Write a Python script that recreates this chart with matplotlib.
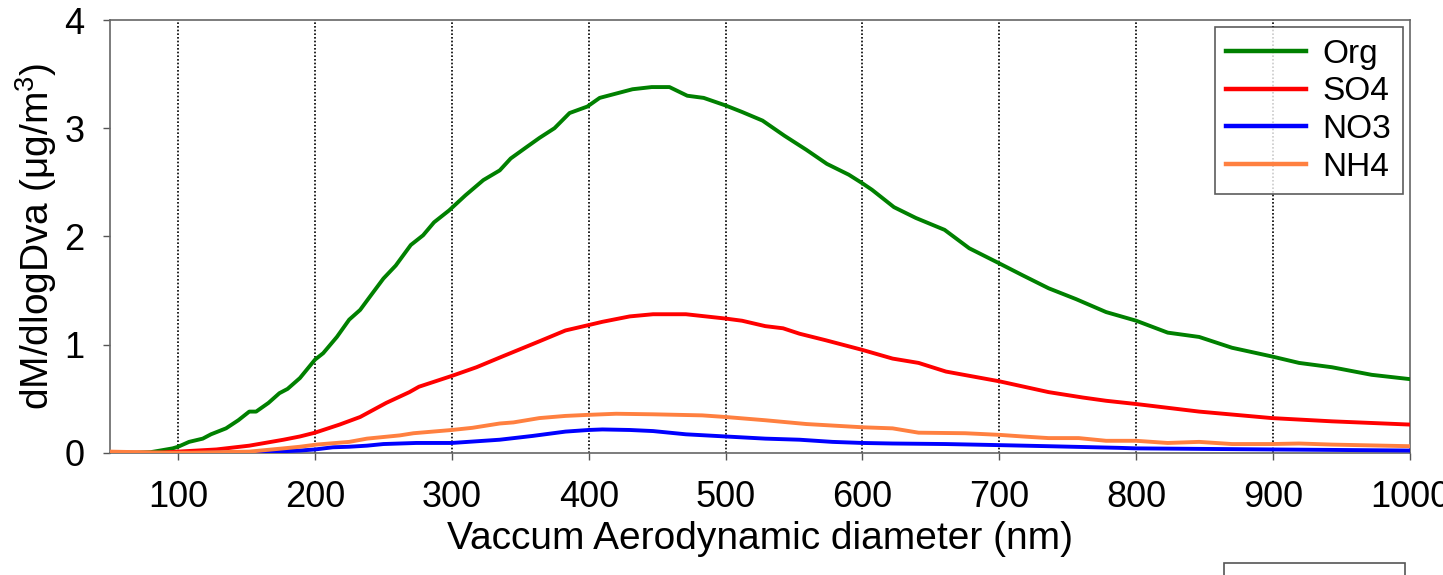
import matplotlib
matplotlib.use("Agg")
import matplotlib.pyplot as plt
from matplotlib.patches import Rectangle

plt.rcParams['font.family'] = ['Liberation Sans', 'DejaVu Sans']
plt.rcParams['mathtext.fontset'] = 'custom'
plt.rcParams['mathtext.rm'] = 'Liberation Sans'
plt.rcParams['mathtext.default'] = 'rm'

# size distributions (diameter in nm, dM/dlogDva)
org_d = [50, 70, 80, 87, 96, 100, 108, 118, 124, 135, 144, 152, 157, 166, 174, 180, 189, 200, 206, 216,
         225, 233, 240, 250, 259, 270, 279, 287, 298, 310, 323, 335, 343, 354, 364, 375, 386, 399, 408,
         420, 432, 446, 459, 472, 484, 500, 512, 527, 543, 559, 574, 590, 600, 607, 623, 639, 660, 678,
         700, 717, 736, 756, 778, 800, 823, 846, 870, 899, 919, 943, 972, 1000]
org_v = [0.0, 0.0, 0.005, 0.02, 0.04, 0.055, 0.10, 0.13, 0.17, 0.225, 0.30, 0.38, 0.38, 0.46, 0.55, 0.59,
         0.69, 0.86, 0.92, 1.07, 1.23, 1.32, 1.44, 1.61, 1.73, 1.92, 2.01, 2.13, 2.24, 2.38, 2.52, 2.61,
         2.72, 2.82, 2.91, 3.00, 3.14, 3.20, 3.28, 3.32, 3.36, 3.38, 3.38, 3.30, 3.28, 3.21, 3.15, 3.07,
         2.93, 2.80, 2.67, 2.57, 2.49, 2.43, 2.27, 2.17, 2.06, 1.89, 1.75, 1.64, 1.52, 1.42, 1.30, 1.22,
         1.11, 1.07, 0.97, 0.89, 0.83, 0.79, 0.72, 0.68]

so4_d = [50, 70, 85, 100, 128, 152, 177, 189, 200, 218, 233, 252, 269, 276, 300, 318, 337, 364, 383,
         400, 410, 430, 447, 471, 500, 512, 529, 542, 554, 573, 600, 622, 641, 661, 700, 736, 761, 778,
         800, 846, 899, 943, 1000]
so4_v = [0.0, 0.0, 0.0, 0.01, 0.03, 0.065, 0.12, 0.15, 0.185, 0.26, 0.33, 0.46, 0.56, 0.61, 0.71, 0.79,
         0.89, 1.03, 1.13, 1.18, 1.21, 1.26, 1.28, 1.28, 1.24, 1.22, 1.17, 1.15, 1.10, 1.04, 0.95, 0.87,
         0.83, 0.75, 0.66, 0.56, 0.51, 0.48, 0.45, 0.38, 0.32, 0.29, 0.26]

no3_d = [50, 65, 80, 100, 130, 160, 189, 200, 213, 225, 238, 250, 274, 300, 335, 359, 383, 400, 410,
         430, 447, 471, 500, 529, 554, 578, 600, 622, 661, 700, 736, 787, 800, 899, 1000]
no3_v = [0.0, -0.01, -0.01, -0.005, 0.0, 0.005, 0.02, 0.03, 0.05, 0.055, 0.065, 0.08, 0.09, 0.09, 0.12,
         0.155, 0.195, 0.21, 0.215, 0.21, 0.20, 0.17, 0.15, 0.13, 0.12, 0.10, 0.09, 0.085, 0.08, 0.07,
         0.06, 0.045, 0.04, 0.03, 0.02]

nh4_d = [50, 70, 90, 110, 130, 152, 177, 189, 201, 225, 238, 262, 272, 300, 315, 335, 345, 364, 383,
         400, 420, 447, 483, 500, 529, 559, 600, 622, 641, 675, 700, 717, 736, 758, 778, 800, 823, 846,
         870, 899, 919, 943, 1000]
nh4_v = [0.01, 0.005, 0.0, 0.0, 0.005, 0.01, 0.04, 0.055, 0.075, 0.10, 0.13, 0.16, 0.18, 0.21, 0.23, 0.27,
         0.28, 0.32, 0.34, 0.35, 0.36, 0.355, 0.345, 0.33, 0.30, 0.265, 0.235, 0.225, 0.185, 0.18, 0.165,
         0.15, 0.135, 0.135, 0.11, 0.11, 0.09, 0.10, 0.08, 0.08, 0.085, 0.075, 0.06]

grid_x = [100, 200, 300, 400, 500, 600, 700, 800, 900]
x_ticks = [100, 200, 300, 400, 500, 600, 700, 800, 900, 1000]
y_ticks = [0, 1, 2, 3, 4]

fig = plt.figure(figsize=(14.43, 5.75), dpi=100)
ax = fig.add_axes([0.0760, 0.2127, 0.9011, 0.7525])

for gx in grid_x:
    ax.axvline(gx, color='black', linestyle=(0, (1, 1.2)), linewidth=1.2, zorder=1)

ax.plot(org_d, org_v, color='#008000', linewidth=2.8, label='Org', zorder=3)
ax.plot(so4_d, so4_v, color='#ff0000', linewidth=2.8, label='SO4', zorder=3)
ax.plot(no3_d, no3_v, color='#0000ff', linewidth=2.8, label='NO3', zorder=3)
ax.plot(nh4_d, nh4_v, color='#ff8040', linewidth=2.8, label='NH4', zorder=3)

ax.set_xlim(50, 1000)
ax.set_ylim(0, 4)
ax.set_xticks(x_ticks)
ax.set_yticks(y_ticks)
ax.tick_params(axis='both', direction='out', length=5, width=1, color='#555555', labelsize=26)
ax.tick_params(axis='x', pad=15)
ax.tick_params(axis='y', pad=13)
for sp in ax.spines.values():
    sp.set_color('#666666')
    sp.set_linewidth(1.2)

ax.set_xlabel('Vaccum Aerodynamic diameter (nm)', fontsize=28, labelpad=4)
ax.set_ylabel('dM/dlogDva (μg/m$^{3}$)', fontsize=28, labelpad=4)

leg = ax.legend(loc='upper right', fontsize=24, frameon=True, fancybox=False,
                handlelength=2.4, handletextpad=0.5, borderpad=0.34, labelspacing=0.2,
                borderaxespad=0.22)
leg.get_frame().set_edgecolor('#333333')
leg.get_frame().set_linewidth(1.2)
for line in leg.get_lines():
    line.set_linewidth(3.2)

fig.patches.append(Rectangle((1224 / 1443, -0.05), 181 / 1443, 0.05 + 12 / 575,
                             transform=fig.transFigure, fill=False,
                             edgecolor='#555555', linewidth=1.2))

fig.savefig('out.png', dpi=100)
